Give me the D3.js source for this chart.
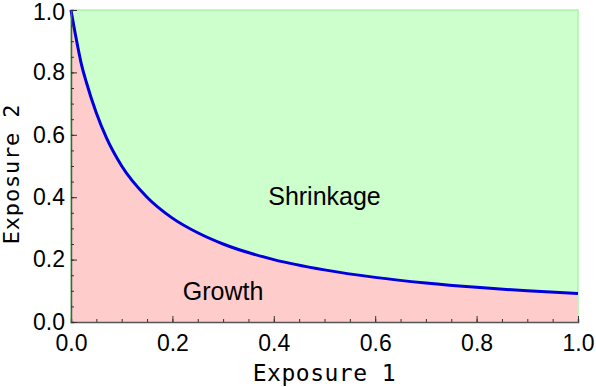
<!DOCTYPE html>
<html>
<head>
<meta charset="utf-8">
<script src="https://cdn.jsdelivr.net/npm/d3@7"></script>
<style>
  body { margin: 0; background: #fff; }
</style>
</head>
<body>
<div id="chart"></div>
<script>
//***************** data *******************/
// boundary curve
var curveX = [0, 0.01, 0.02, 0.03, 0.05, 0.07, 0.1, 0.15, 0.2, 0.25, 0.3, 0.4, 0.5, 0.6, 0.7, 0.8, 0.9, 1.0];
var curveY = [1.0, 0.91, 0.83, 0.77, 0.67, 0.59, 0.5, 0.4, 0.333, 0.286, 0.25, 0.2, 0.167, 0.143, 0.125, 0.111, 0.1, 0.091];
var xTicks = [0, 0.2, 0.4, 0.6, 0.8, 1.0];
var yTicks = [0, 0.2, 0.4, 0.6, 0.8, 1.0];
var regionLabels = ["Shrinkage", "Growth"];

//************* set dimensions ***************/
var W = 596, H = 387;
var margin = {left: 71, right: 18, top: 10, bottom: 65};
var width = W - margin.left - margin.right,
    height = H - margin.top - margin.bottom;

var svg = d3.select("#chart").append("svg")
    .attr("width", W).attr("height", H)
  .append("g")
    .attr("transform", "translate(" + margin.left + "," + margin.top + ")");

//***************** scales *******************/
var x = d3.scaleLinear().domain([0, 1]).range([0, width]);
var y = d3.scaleLinear().domain([0, 1]).range([height, 0]);

var pts = curveX.map(function(d, i) { return [d, curveY[i]]; });

//***************** regions *******************/
svg.append("rect")
  .attr("x", 0).attr("y", 0)
  .attr("width", width).attr("height", height)
  .attr("fill", "#ccffcc")
  .attr("stroke", "#aaf5aa")
  .attr("stroke-width", 1.5);

var below = d3.area()
  .x(function(d) { return x(d[0]); })
  .y0(y(0))
  .y1(function(d) { return y(d[1]); })
  .curve(d3.curveMonotoneX);

svg.append("path")
  .datum(pts)
  .attr("d", below)
  .attr("fill", "#ffcccc");

// boundary line
svg.append("path")
  .datum(pts)
  .attr("d", d3.line()
    .x(function(d) { return x(d[0]); })
    .y(function(d) { return y(d[1]); })
    .curve(d3.curveMonotoneX))
  .attr("fill", "none")
  .attr("stroke", "#0000dd")
  .attr("stroke-width", 3);

//***************** axes *******************/
var minor = d3.range(0, 1.0001, 0.05);

var xAxis = svg.append("g")
  .attr("transform", "translate(0," + height + ")");
xAxis.call(d3.axisBottom(x).tickValues(minor).tickSize(-3).tickFormat(""));
xAxis.selectAll(".tick line").attr("stroke", "#333");
xAxis.select(".domain").attr("stroke", "#555").attr("stroke-width", 1.5);

var xMajor = svg.append("g")
  .attr("transform", "translate(0," + height + ")")
  .call(d3.axisBottom(x).tickValues(xTicks).tickSize(-6).tickPadding(13)
    .tickFormat(d3.format(".1f")));
xMajor.select(".domain").remove();
xMajor.selectAll(".tick line").attr("stroke", "#333");
xMajor.selectAll("text")
  .attr("font-family", "Liberation Sans, Arial, sans-serif")
  .attr("font-size", "23px").attr("fill", "#000");

var yAxis = svg.append("g");
yAxis.call(d3.axisLeft(y).tickValues(minor).tickSize(-3).tickFormat(""));
yAxis.selectAll(".tick line").attr("stroke", "#333");
yAxis.select(".domain").attr("stroke", "#555").attr("stroke-width", 1.5);

var yMajor = svg.append("g")
  .call(d3.axisLeft(y).tickValues(yTicks).tickSize(-6).tickPadding(6)
    .tickFormat(d3.format(".1f")));
yMajor.select(".domain").remove();
yMajor.selectAll(".tick line").attr("stroke", "#333");
yMajor.selectAll("text")
  .attr("font-family", "Liberation Sans, Arial, sans-serif")
  .attr("font-size", "23px").attr("fill", "#000")
  .attr("dy", function(d) { return d === 1 ? "0.4em" : "0.32em"; });

//***************** labels *******************/
svg.append("text")
  .attr("x", width / 2).attr("y", height + 59)
  .attr("text-anchor", "middle")
  .attr("font-family", "DejaVu Sans Mono, monospace")
  .attr("font-size", "23px")
  .attr("letter-spacing", "0.5px")
  .text("Exposure 1");

svg.append("text")
  .attr("transform", "translate(" + (-52) + "," + (height / 2 + 8) + ") rotate(-90)")
  .attr("text-anchor", "middle")
  .attr("font-family", "DejaVu Sans Mono, monospace")
  .attr("font-size", "22px")
  .attr("letter-spacing", "0.8px")
  .text("Exposure 2");

svg.append("text")
  .attr("x", x(0.5)).attr("y", y(0.375))
  .attr("text-anchor", "middle")
  .attr("font-family", "Liberation Sans, Arial, sans-serif")
  .attr("font-size", "25px")
  .text(regionLabels[0]);

svg.append("text")
  .attr("x", x(0.3)).attr("y", y(0.07))
  .attr("text-anchor", "middle")
  .attr("font-family", "Liberation Sans, Arial, sans-serif")
  .attr("font-size", "25px")
  .text(regionLabels[1]);
</script>
</body>
</html>
